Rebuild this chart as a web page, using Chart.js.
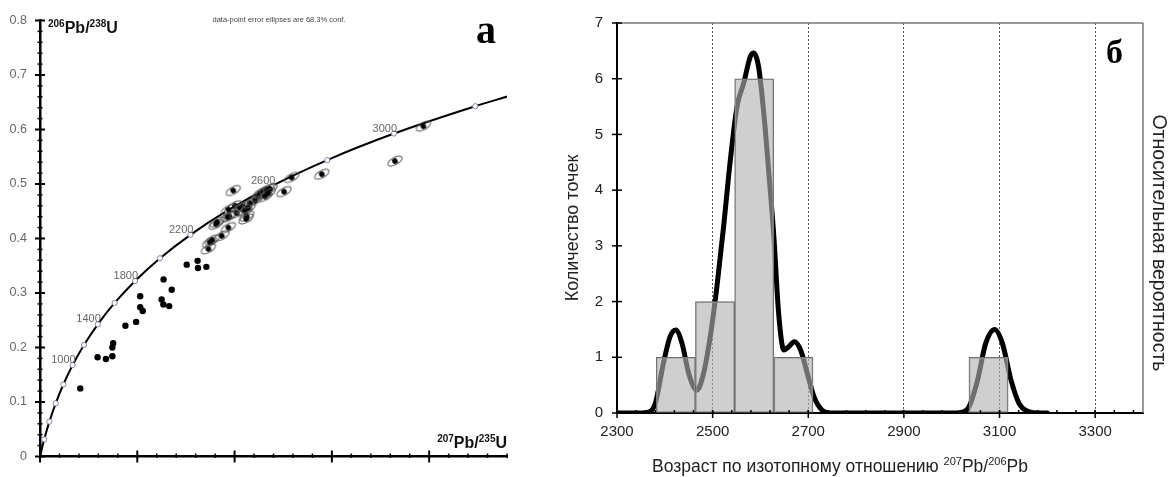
<!DOCTYPE html>
<html>
<head>
<meta charset="utf-8">
<script src="https://cdn.jsdelivr.net/npm/chart.js@4.4.1/dist/chart.umd.min.js"></script>
<style>
html, body { margin: 0; padding: 0; background: #fff; }
#wrap { position: relative; width: 1176px; height: 477px; }
#concordia { position: absolute; left: 0; top: 0; }
#hist { position: absolute; left: 560px; top: 0; }
</style>
</head>
<body>
<div id="wrap">
<canvas id="concordia" width="560" height="477"></canvas>
<canvas id="hist" width="616" height="477"></canvas>
</div>
<script>
// ---------- panel a : concordia diagram ----------
const concAges = [0, 200, 400, 600, 800, 1000, 1200, 1400, 1600, 1800, 2000, 2200, 2400, 2600, 2800, 3000, 3200, 3270];
const concX = [0, 0.2177, 0.4828, 0.8056, 1.1987, 1.6774, 2.2603, 2.9701, 3.8344, 4.8869, 6.1685, 7.7292, 9.6296, 11.9437, 14.7617, 18.1931, 22.3716, 24.04];
const concY = [0, 0.03151, 0.06402, 0.09754, 0.13213, 0.1678, 0.20459, 0.24257, 0.28173, 0.32212, 0.36377, 0.40674, 0.45106, 0.49679, 0.54395, 0.5926, 0.64278, 0.6607];
const labelledAges = [1000, 1400, 1800, 2200, 2600, 3000];

const dotX = [2.07, 2.96, 3.39, 3.72, 3.72, 3.76, 4.39, 4.94, 5.15, 5.15, 5.28, 6.35, 6.77, 6.25, 6.34, 6.64, 7.54, 8.10, 8.12, 8.55];
const dotY = [0.125, 0.182, 0.179, 0.184, 0.200, 0.208, 0.240, 0.247, 0.294, 0.274, 0.267, 0.325, 0.306, 0.288, 0.279, 0.276, 0.352, 0.359, 0.346, 0.348];

const ellX = [8.65, 8.72, 8.85, 9.34, 9.04, 9.11, 9.68, 9.63, 9.73, 9.93, 10.02, 10.11, 10.28, 10.45, 10.53, 10.62, 10.70, 10.59, 10.79, 11.05, 11.22, 11.31, 11.48, 11.65, 11.82, 11.56, 11.73, 9.68, 12.54, 12.93, 14.48, 18.24, 19.70];
const ellY = [0.381, 0.393, 0.397, 0.405, 0.426, 0.430, 0.420, 0.439, 0.441, 0.488, 0.460, 0.447, 0.456, 0.459, 0.450, 0.441, 0.456, 0.436, 0.465, 0.470, 0.477, 0.483, 0.486, 0.490, 0.491, 0.477, 0.483, 0.453, 0.486, 0.512, 0.518, 0.542, 0.606];

// ---------- panel б : histogram + probability curve ----------
const binCentres = [2423, 2505, 2587, 2669, 3077];
const binCounts = [1, 2, 6, 1, 1];
const pdfAge = [2300, 2340, 2362, 2380, 2397, 2411, 2423, 2436, 2450, 2467, 2481, 2495, 2509, 2523, 2537, 2551, 2565, 2579, 2586, 2596, 2607, 2617, 2628, 2638, 2649, 2659, 2671, 2684, 2698, 2712, 2729, 2747, 2780, 3000, 3019, 3036, 3054, 3071, 3090, 3106, 3124, 3141, 3162, 3180, 3200];
const pdfValue = [0, 0, 0.01, 0.17, 0.89, 1.37, 1.49, 1.25, 0.71, 0.41, 0.71, 1.37, 2.27, 3.35, 4.54, 5.50, 5.92, 6.40, 6.46, 6.22, 5.38, 4.36, 3.17, 1.79, 1.13, 1.19, 1.28, 1.13, 0.71, 0.29, 0.05, 0, 0, 0, 0.01, 0.11, 0.59, 1.25, 1.50, 1.25, 0.59, 0.17, 0.02, 0, 0];
const ageTicks = [2300, 2500, 2700, 2900, 3100, 3300];

const FONT = '"Liberation Sans", Arial, sans-serif';

function richText(ctx, x, y, parts, size, weight, align) {
	const main = weight + ' ' + size + 'px ' + FONT;
	const sup = weight + ' ' + Math.round(size * 0.62) + 'px ' + FONT;
	let w = 0;
	parts.forEach(p => { ctx.font = p[1] ? sup : main; w += ctx.measureText(p[0]).width; });
	let cx = align === 'right' ? x - w : align === 'center' ? x - w / 2 : x;
	ctx.textAlign = 'left';
	ctx.textBaseline = 'alphabetic';
	parts.forEach(p => {
		ctx.font = p[1] ? sup : main;
		ctx.fillText(p[0], cx, p[1] ? y - size * 0.38 : y);
		cx += ctx.measureText(p[0]).width;
	});
}

function seg(ctx, x1, y1, x2, y2) {
	ctx.beginPath();
	ctx.moveTo(x1, y1);
	ctx.lineTo(x2, y2);
	ctx.stroke();
}

function ellipseMark() {
	const c = document.createElement('canvas');
	c.width = 22;
	c.height = 16;
	const g = c.getContext('2d');
	g.translate(11, 8);
	g.rotate(-0.5);
	g.beginPath();
	g.ellipse(0, 0, 8, 3.6, 0, 0, Math.PI * 2);
	g.strokeStyle = '#555';
	g.lineWidth = 1;
	g.stroke();
	g.beginPath();
	g.arc(0, 0, 2.8, 0, Math.PI * 2);
	g.fillStyle = '#000';
	g.fill();
	return c;
}

const concordiaDecor = {
	id: 'concordiaDecor',
	afterDraw(chart) {
		const { ctx, chartArea: a, scales: { x, y } } = chart;
		ctx.save();
		ctx.strokeStyle = '#000';
		for (let i = 0; i <= 40; i++) {
			const py = y.getPixelForValue(i * 0.02);
			const major = i % 5 === 0;
			ctx.lineWidth = major ? 2 : 1.5;
			seg(ctx, a.left - (major ? 5 : 2.5), py, a.left + (major ? 5 : 2.5), py);
		}
		for (let i = 0; i <= 24; i++) {
			const px = x.getPixelForValue(i);
			const major = i % 5 === 0;
			ctx.lineWidth = major ? 2 : 1.5;
			seg(ctx, px, a.bottom - (major ? 6 : 3), px, a.bottom + (major ? 6 : 1.5));
		}
		// age labels on the concordia
		const meta = chart.getDatasetMeta(0);
		ctx.fillStyle = '#666';
		ctx.font = '11px ' + FONT;
		ctx.textAlign = 'right';
		ctx.textBaseline = 'alphabetic';
		labelledAges.forEach(age => {
			const pt = meta.data[concAges.indexOf(age)];
			ctx.fillText(String(age), pt.x + 3, pt.y - 2);
		});
		ctx.fillStyle = '#111';
		richText(ctx, 48, 33, [['206', 1], ['Pb/', 0], ['238', 1], ['U', 0]], 16, 'bold', 'left');
		richText(ctx, 507, 448, [['207', 1], ['Pb/', 0], ['235', 1], ['U', 0]], 16, 'bold', 'right');
		ctx.fillStyle = '#444';
		ctx.font = '7.5px ' + FONT;
		ctx.textAlign = 'center';
		ctx.fillText('data-point error ellipses are 68.3% conf.', 279, 22);
		ctx.fillStyle = '#000';
		ctx.font = 'bold 40px "Liberation Serif", "Times New Roman", serif';
		ctx.textAlign = 'left';
		ctx.fillText('а', 476, 43);
		ctx.restore();
	}
};

new Chart(document.getElementById('concordia'), {
	type: 'scatter',
	data: {
		datasets: [
			{
				type: 'line',
				data: concX.map((v, i) => ({ x: v, y: concY[i] })),
				borderColor: '#000',
				borderWidth: 2,
				cubicInterpolationMode: 'monotone',
				pointRadius: c => (concAges[c.dataIndex] > 0 && concAges[c.dataIndex] % 200 === 0 ? 2.6 : 0),
				pointBackgroundColor: '#fff',
				pointBorderColor: '#7d88aa',
				pointBorderWidth: 1,
				order: 2,
			},
			{
				data: dotX.map((v, i) => ({ x: v, y: dotY[i] })),
				pointRadius: 3.2,
				pointBackgroundColor: '#000',
				pointBorderColor: '#000',
				pointBorderWidth: 0,
				order: 1,
			},
			{
				data: ellX.map((v, i) => ({ x: v, y: ellY[i] })),
				pointStyle: ellipseMark(),
				order: 0,
			},
		],
	},
	options: {
		responsive: false,
		animation: false,
		layout: { padding: { top: 18, right: 53, left: 0, bottom: 0 } },
		plugins: { legend: { display: false }, tooltip: { enabled: false } },
		scales: {
			x: {
				type: 'linear',
				min: 0,
				max: 24,
				afterFit: s => { s.height = 13; },
				ticks: { display: false, stepSize: 5 },
				grid: { display: false },
				border: { color: '#000', width: 2.5 },
			},
			y: {
				min: 0,
				max: 0.8,
				afterFit: s => { s.width = 40; },
				ticks: { stepSize: 0.1, padding: 13, color: '#666', font: { family: FONT, size: 12.5 } },
				grid: { drawOnChartArea: false, drawTicks: false },
				border: { color: '#000', width: 2.5 },
			},
		},
	},
	plugins: [concordiaDecor],
});

const histDecor = {
	id: 'histDecor',
	afterDraw(chart) {
		const { ctx, chartArea: a, scales: { x, y } } = chart;
		ctx.save();
		ctx.strokeStyle = '#777';
		ctx.lineWidth = 1.5;
		seg(ctx, a.left, a.top, a.right, a.top);
		seg(ctx, a.right, a.top, a.right, a.bottom);
		ctx.strokeStyle = '#000';
		ctx.lineWidth = 1.5;
		for (let v = 0; v <= 7; v++) {
			const py = y.getPixelForValue(v);
			seg(ctx, a.left - 5, py, a.left + 5, py);
		}
		for (let v = 2300; v <= 3400; v += 40) {
			const px = x.getPixelForValue(v);
			seg(ctx, px, a.bottom - 3, px, a.bottom);
		}
		ageTicks.forEach(v => {
			const px = x.getPixelForValue(v);
			seg(ctx, px, a.bottom - 3, px, a.bottom + 5);
		});
		ctx.fillStyle = '#222';
		richText(ctx, 92, 472, [['Возраст по изотопному отношению ', 0], ['207', 1], ['Pb/', 0], ['206', 1], ['Pb', 0]], 17.5, 'normal', 'left');
		ctx.font = '18px ' + FONT;
		ctx.textAlign = 'center';
		ctx.textBaseline = 'middle';
		ctx.save();
		ctx.translate(13, 228);
		ctx.rotate(-Math.PI / 2);
		ctx.fillText('Количество точек', 0, 0);
		ctx.restore();
		ctx.save();
		ctx.font = '19.5px ' + FONT;
		ctx.translate(598, 243);
		ctx.rotate(Math.PI / 2);
		ctx.fillText('Относительная вероятность', 0, 0);
		ctx.restore();
		ctx.fillStyle = '#000';
		ctx.font = 'bold 34px "Liberation Serif", "Times New Roman", serif';
		ctx.textAlign = 'left';
		ctx.textBaseline = 'alphabetic';
		ctx.fillText('б', 546, 63);
		ctx.restore();
	}
};

new Chart(document.getElementById('hist'), {
	type: 'bar',
	data: {
		datasets: [
			{
				type: 'bar',
				data: binCentres.map((c, i) => ({ x: c, y: binCounts[i] })),
				backgroundColor: 'rgba(178,178,178,0.62)',
				borderColor: '#707070',
				borderWidth: 1,
				borderSkipped: false,
				barPercentage: 1,
				categoryPercentage: 1,
				order: 0,
			},
			{
				type: 'line',
				data: pdfAge.map((a, i) => ({ x: a, y: pdfValue[i] })),
				borderColor: '#000',
				borderWidth: 5,
				pointRadius: 0,
				cubicInterpolationMode: 'monotone',
				borderCapStyle: 'round',
				borderJoinStyle: 'round',
				order: 1,
			},
		],
	},
	options: {
		responsive: false,
		animation: false,
		layout: { padding: { top: 23, right: 33, left: 0, bottom: 0 } },
		plugins: { legend: { display: false }, tooltip: { enabled: false } },
		scales: {
			x: {
				type: 'linear',
				min: 2300,
				max: 3400,
				offset: false,
				afterBuildTicks: s => { s.ticks = ageTicks.map(v => ({ value: v })); },
				afterFit: s => { s.height = 64; },
				ticks: { callback: v => String(v), padding: 10, color: '#222', maxRotation: 0, autoSkip: false, font: { family: FONT, size: 15 } },
				grid: { offset: false, drawTicks: false, lineWidth: 1, color: c => (c.tick && c.tick.value === 2300 ? 'rgba(0,0,0,0)' : '#555') },
				border: { color: '#000', width: 2, dash: [2, 2] },
			},
			y: {
				min: 0,
				max: 7,
				afterFit: s => { s.width = 57; },
				ticks: { stepSize: 1, padding: 14, color: '#222', font: { family: FONT, size: 15 } },
				grid: { drawOnChartArea: false, drawTicks: false },
				border: { color: '#000', width: 2 },
			},
		},
	},
	plugins: [histDecor],
});
</script>
</body>
</html>
